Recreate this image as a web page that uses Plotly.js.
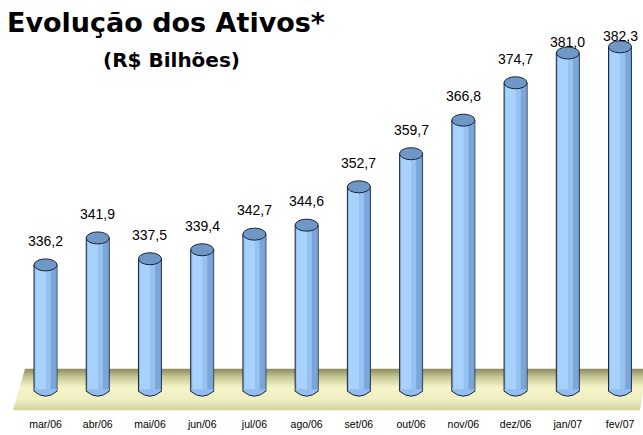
<!DOCTYPE html>
<html>
<head>
<meta charset="utf-8">
<script src="https://cdn.plot.ly/plotly-3.0.1.min.js"></script>
<style>html,body{margin:0;padding:0;background:#fff}#chart{width:643px;height:435px}</style>
</head>
<body>
<div id="chart"></div>
<script>
// ---- data ----
const categories = ['mar/06','abr/06','mai/06','jun/06','jul/06','ago/06','set/06','out/06','nov/06','dez/06','jan/07','fev/07'];
const values = [336.2, 341.9, 337.5, 339.4, 342.7, 344.6, 352.7, 359.7, 366.8, 374.7, 381.0, 382.3];
const valueLabels = ['336,2','341,9','337,5','339,4','342,7','344,6','352,7','359,7','366,8','374,7','381,0','382,3'];
const chartTitle = 'Evolução dos Ativos*';
const chartSubtitle = '(R$ Bilhões)';

// ---- geometry / style ----
const W = 643, H = 435;
const MB = 23;                 // bottom margin
const PH = H - MB;             // plot height in px
const Y_MIN = 305.1, Y_MAX = 392.2;
const PXU = PH / (Y_MAX - Y_MIN);
const BAR_BASE = 309.5;
const X_RANGE = [-0.871, 11.44];
const BAR_W = 0.44;
const HALF_PX = 11.5;
const FONT = 'Liberation Sans, Arial, sans-serif';
const TFONT = 'DejaVu Sans, Verdana, sans-serif';

const lengths = values.map(v => v - BAR_BASE);
function barTrace(width, offset, color, line) {
  return {
    type: 'bar', x: categories, y: lengths, base: BAR_BASE,
    width: width, offset: offset,
    marker: {color: color, line: line || {width: 0}},
    hoverinfo: 'skip', showlegend: false
  };
}
const traces = [
  barTrace(BAR_W, -BAR_W/2, '#8cb8ea', {color: '#1a2438', width: 1}),
  barTrace(0.20, -0.19, '#a8d2fd'),
  barTrace(0.09, 0.01, '#96c2f2'),
  barTrace(0.10, 0.10, '#7ca6d8'),
  barTrace(0.02, 0.195, '#6d96c8')
];

// floor (decoration) as stripes
function hex(c){return [parseInt(c.slice(1,3),16),parseInt(c.slice(3,5),16),parseInt(c.slice(5,7),16)];}
const floorStops = [[0,'#8a8a5c'],[0.2,'#c6c694'],[0.45,'#f4f4c8'],[0.75,'#efefc2'],[1,'#d4d4a2']];
function floorColor(t){
  for (let k=0;k<floorStops.length-1;k++){
    const [a,ca]=floorStops[k],[b,cb]=floorStops[k+1];
    if (t<=b){const f=(t-a)/(b-a);const A=hex(ca),B=hex(cb);
      return 'rgb('+A.map((x,j)=>Math.round(x+(B[j]-x)*f)).join(',')+')';}
  }
  return floorStops[floorStops.length-1][1];
}
const shapes = [];
const FT = 369, FB = 410, LT = 25, LB = 13, RT = 647, RB = 640;
const N = 22;
for (let s=0;s<N;s++){
  const t0=s/N, t1=(s+1)/N;
  const y0=FT+(FB-FT)*t0, y1=FT+(FB-FT)*t1;
  const xl0=LT+(LB-LT)*t0, xl1=LT+(LB-LT)*t1, xr0=RT+(RB-RT)*t0, xr1=RT+(RB-RT)*t1;
  const px=x=>x/W, py=y=>(PH-y)/PH;
  shapes.push({type:'path', xref:'paper', yref:'paper', layer:'below',
    path:`M ${px(xl0)} ${py(y0-0.3)} L ${px(xr0)} ${py(y0-0.3)} L ${px(xr1)} ${py(y1+0.3)} L ${px(xl1)} ${py(y1+0.3)} Z`,
    fillcolor: floorColor((t0+t1)/2), line:{width:0}});
}

// cylinder ends
values.forEach((v,i)=>{
  shapes.push({type:'path', xref:'x', yref:'y', xsizemode:'pixel', ysizemode:'pixel',
    xanchor:i, yanchor:BAR_BASE, layer:'above',
    path:`M ${-HALF_PX+0.5} 2 L ${HALF_PX-0.5} 2 L ${HALF_PX-0.5} 0 Q 0 -10 ${-HALF_PX+0.5} 0 Z`,
    fillcolor:'#92bdee', line:{width:0}});
  shapes.push({type:'path', xref:'x', yref:'y', xsizemode:'pixel', ysizemode:'pixel',
    xanchor:i, yanchor:BAR_BASE, layer:'above',
    path:`M ${-HALF_PX} 0 Q 0 -10 ${HALF_PX} 0`,
    fillcolor:'rgba(0,0,0,0)', line:{color:'#1a2438', width:1}});
  shapes.push({type:'circle', xref:'x', yref:'y', xsizemode:'pixel', ysizemode:'pixel',
    xanchor:i, yanchor:v, layer:'above',
    x0:-HALF_PX, x1:HALF_PX, y0:-6, y1:6,
    fillcolor:'#6f98c6', line:{color:'#1a2438', width:1}});
});

// value labels: normally 24px above the bar top, pulled closer near the top edge
const annotations = values.map((v,i)=>{
  const topPx = PH - (v - Y_MIN) * PXU;
  const off = (topPx - 24 >= 45) ? 24 : 11;
  return {
    x: categories[i], y: v + off / PXU, xref:'x', yref:'y',
    text: valueLabels[i], showarrow:false, yanchor:'middle', xanchor:'center',
    font:{family:FONT, size:14, color:'#000'}
  };
});
annotations.push({
  text:'<b>'+chartSubtitle+'</b>', xref:'paper', yref:'paper',
  x:171/W, y:(PH-60)/PH, xanchor:'center', yanchor:'middle', showarrow:false,
  font:{family:TFONT, size:20, color:'#000'}
});

const layout = {
  width: W, height: H,
  margin: {l:0, r:0, t:0, b:MB, pad:0},
  paper_bgcolor:'#fff', plot_bgcolor:'rgba(0,0,0,0)',
  barmode:'overlay',
  title:{text:'<b>'+chartTitle+'</b>', x:7/W, xanchor:'left', xref:'paper',
         y:1-23/H, yanchor:'middle', yref:'container',
         font:{family:TFONT, size:27, color:'#000'}},
  xaxis:{type:'category', range:X_RANGE, autorange:false, showgrid:false, showline:false,
         zeroline:false, ticks:'', ticklabelstandoff:4, fixedrange:true,
         tickfont:{family:FONT, size:10.5, color:'#000'}},
  yaxis:{range:[Y_MIN, Y_MAX], autorange:false, visible:false, showgrid:false, zeroline:false, fixedrange:true},
  shapes: shapes, annotations: annotations, showlegend:false
};
Plotly.newPlot('chart', traces, layout, {displayModeBar:false, staticPlot:true});
</script>
</body>
</html>
